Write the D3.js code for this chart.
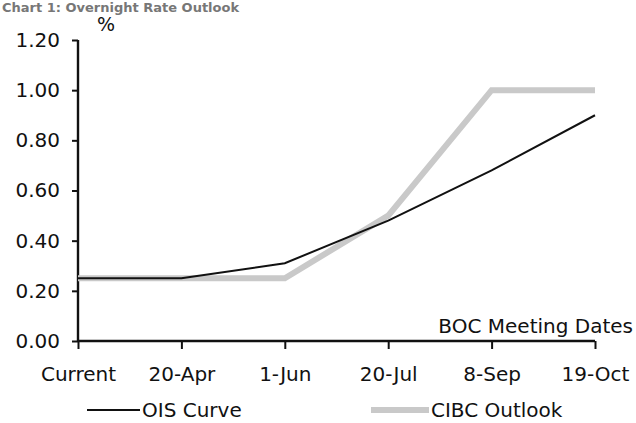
<!DOCTYPE html>
<html><head><meta charset="utf-8">
<script src="https://cdn.jsdelivr.net/npm/d3@7"></script>
<style>body{margin:0;background:#fff;}svg{display:block;font-family:"DejaVu Sans",Verdana,sans-serif;}</style>
</head><body>
<svg id="c" width="636" height="423"></svg>
<script>
const categories = ["Current","20-Apr","1-Jun","20-Jul","8-Sep","19-Oct"];
const oisCurve = [0.25,0.25,0.31,0.48,0.68,0.90];
const cibcOutlook = [0.25,0.25,0.25,0.50,1.00,1.00];
const yTicks = [0,0.2,0.4,0.6,0.8,1.0,1.2];
const title = "Chart 1: Overnight Rate Outlook";

const svg = d3.select("#c");
const x = d3.scalePoint().domain(categories).range([78,595]);
const y = d3.scaleLinear().domain([0,1.2]).range([341,40]);

svg.append("text").attr("x",2).attr("y",12).attr("font-size",13).attr("font-weight","bold")
  .attr("fill","#777").text(title);

const yAx = svg.append("g").attr("transform","translate(78,0)")
  .call(d3.axisLeft(y).tickValues(yTicks).tickFormat(d3.format(".2f")).tickSize(6).tickPadding(12));
const xAx = svg.append("g").attr("transform","translate(0,341)")
  .call(d3.axisBottom(x).tickSize(8).tickPadding(18));
[yAx,xAx].forEach(a=>{
  a.select(".domain").attr("stroke","#111").attr("stroke-width",2.4);
  a.selectAll(".tick line").attr("stroke","#111").attr("stroke-width",2);
  a.selectAll("text").attr("font-size",20).attr("fill","#111").attr("font-family","DejaVu Sans, Verdana, sans-serif");
});
xAx.select(".domain").attr("d","M78,0H595");
yAx.select(".domain").attr("d","M0,341V40");

svg.append("text").attr("x",97).attr("y",31).attr("font-size",19).attr("fill","#111").text("%");
svg.append("text").attr("x",633).attr("y",333).attr("text-anchor","end").attr("font-size",20)
  .attr("fill","#111").text("BOC Meeting Dates");

const line = d3.line().x((d,i)=>x(categories[i])).y(d=>y(d));
svg.append("path").datum(cibcOutlook).attr("d",line).attr("fill","none")
  .attr("stroke","#c9c9c9").attr("stroke-width",6).attr("stroke-linejoin","miter");
svg.append("path").datum(oisCurve).attr("d",line).attr("fill","none")
  .attr("stroke","#111").attr("stroke-width",2);

// legend
const lg = svg.append("g");
lg.append("line").attr("x1",87).attr("x2",140).attr("y1",410).attr("y2",410).attr("stroke","#111").attr("stroke-width",2);
lg.append("text").attr("x",142).attr("y",417).attr("font-size",20).attr("fill","#111").text("OIS Curve");
lg.append("line").attr("x1",371).attr("x2",429).attr("y1",410).attr("y2",410).attr("stroke","#c9c9c9").attr("stroke-width",6);
lg.append("text").attr("x",431).attr("y",417).attr("font-size",20).attr("fill","#111").text("CIBC Outlook");
</script>
</body></html>
